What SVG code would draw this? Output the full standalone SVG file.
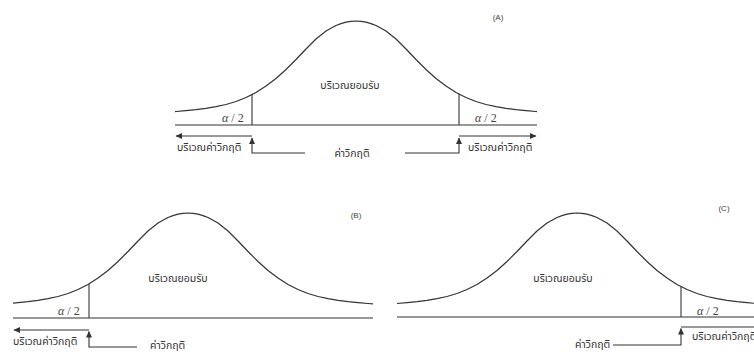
<svg xmlns="http://www.w3.org/2000/svg" width="754" height="354" viewBox="0 0 754 354">
<style>
.ln{fill:none;stroke:#333;stroke-width:1.1}
.cv{fill:none;stroke:#333;stroke-width:1.2;stroke-linejoin:round}
.th{font-family:"Noto Sans Thai","Noto Sans","Liberation Sans",sans-serif;font-size:10.5px;fill:#333}
.al{font-family:"Liberation Serif",serif;font-size:12px;fill:#444}
.lb{font-family:"Liberation Sans",sans-serif;font-size:8px;fill:#444}
.ar{marker-end:url(#ah)}
</style>
<defs>
<marker id="ah" markerUnits="userSpaceOnUse" markerWidth="7" markerHeight="6" refX="6" refY="3" orient="auto">
<path d="M0,0 L6.5,3 L0,6 z" fill="#333"/>
</marker>
<path id="bell" d="M-200,91.7 L-190,91.2 L-180,90.5 L-170,89.7 L-160,88.7 L-150,87.4 L-140,85.7 L-130,83.5 L-120,80.5 L-110,76.5 L-100,71.5 L-90,65 L-80,57.5 L-70,48.5 L-60,38.5 L-50,28 L-40,18 L-30,10 L-20,4.5 L-15,2.6 L-10,1.2 L-5,0.3 L0,0 L5,0.3 L10,1.2 L15,2.6 L20,4.5 L30,10 L40,18 L50,28 L60,38.5 L70,48.5 L80,57.5 L90,65 L100,71.5 L110,76.5 L120,80.5 L130,83.5 L140,85.7 L150,87.4 L160,88.7 L170,89.7 L180,90.5 L190,91.2 L200,91.7"/>
<clipPath id="cA"><rect x="175" y="0" width="362" height="130"/></clipPath>
<clipPath id="cB"><rect x="13" y="190" width="360" height="130"/></clipPath>
<clipPath id="cC"><rect x="397" y="190" width="357" height="130"/></clipPath>
</defs>

<g id="panelA">
<g id="curveA" clip-path="url(#cA)"><use href="#bell" class="cv" transform="translate(356,21)"/></g>
<line class="ln" x1="175" y1="125" x2="537" y2="125"/>
<line class="ln" x1="252" y1="94.5" x2="252" y2="125"/>
<line class="ln" x1="459" y1="94" x2="459" y2="125"/>
<text class="lb" x="498" y="20" text-anchor="middle">(A)</text>
<text class="th" x="350" y="89" text-anchor="middle">บริเวณยอมรับ</text>
<text class="al" x="222" y="122"><tspan font-style="italic">α</tspan> / 2</text>
<text class="al" x="475" y="122"><tspan font-style="italic">α</tspan> / 2</text>
<text class="th" x="177" y="151">บริเวณค่าวิกฤติ</text>
<text class="th" x="468" y="151">บริเวณค่าวิกฤติ</text>
<text class="th" x="352" y="157" text-anchor="middle">ค่าวิกฤติ</text>
</g>

<g id="panelB">
<g id="curveB" clip-path="url(#cB)"><use href="#bell" class="cv" transform="translate(188,213)"/></g>
<line class="ln" x1="13" y1="318" x2="373" y2="318"/>
<line class="ln" x1="89" y1="284" x2="89" y2="318"/>
<text class="lb" x="356" y="218" text-anchor="middle">(B)</text>
<text class="th" x="178" y="282" text-anchor="middle">บริเวณยอมรับ</text>
<text class="al" x="58" y="315"><tspan font-style="italic">α</tspan> / 2</text>
<text class="th" x="13" y="345">บริเวณค่าวิกฤติ</text>
<text class="th" x="150" y="349">ค่าวิกฤติ</text>
</g>

<g id="panelC">
<g id="curveC" clip-path="url(#cC)"><use href="#bell" class="cv" transform="translate(577,213)"/></g>
<line class="ln" x1="397" y1="317" x2="754" y2="317"/>
<line class="ln" x1="681" y1="286.5" x2="681" y2="317"/>
<text class="lb" x="724" y="211" text-anchor="middle">(C)</text>
<text class="th" x="563" y="282" text-anchor="middle">บริเวณยอมรับ</text>
<text class="al" x="697" y="315"><tspan font-style="italic">α</tspan> / 2</text>
<text class="th" x="692" y="340">บริเวณค่าวิกฤติ</text>
<text class="th" x="575" y="348">ค่าวิกฤติ</text>
</g>

<g id="connectors">
<line class="ln ar" x1="252" y1="136" x2="176" y2="136"/>
<line class="ln ar" x1="459" y1="136" x2="536" y2="136"/>
<polyline class="ln ar" points="305,153 252,153 252,138"/>
<polyline class="ln ar" points="405,153 459,153 459,138"/>
<line class="ln ar" x1="89" y1="330" x2="14" y2="330"/>
<polyline class="ln ar" points="137,347 89,347 89,331.5"/>
<line class="ln ar" x1="681" y1="327" x2="760" y2="327"/>
<polyline class="ln ar" points="613,345 681,345 681,328.5"/>
</g>
</svg>
